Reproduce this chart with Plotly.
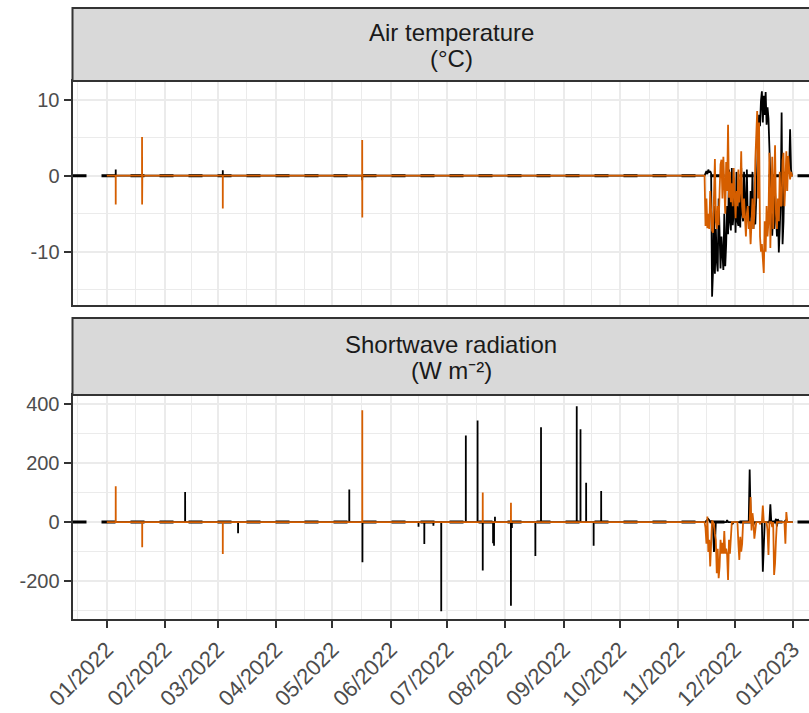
import pandas as pd
import plotly.graph_objects as go

# ---------------- data ----------------
series_start = "2022-01-01 00:00"
series_end = "2023-01-01 00:00"
dense_start = "2022-11-15 00:00"   # dense block sampled every 12 h

# Air temperature (°C) - black series
air_black_spike_times = ["2022-01-05 18:00", "2022-03-03 17:00", "2022-05-16 21:00"]
air_black_spike_values = [0.8, 0.7, -0.6]
air_black_dense = [
    0, 0.3, 0.6, 0.2, 0.8, 0.4, 0.6, 0.3,
    -15.9,
    -12.5, -4, -12.9, -7, -11.2, -12.6, -3, -10.5, -12.2, -8, -11.5, -12.4, -5, -11.9, -9,
    -4, -7.7, 0.8, -6, -7.2, 1, -6.5, -5, -2, -7.5, 0.5,
    -6, -6.6, -3, -6.8, 1, -5, -6, 0.5, -4,
    -5.9, 0.8, -6, -4, -7, -2, -5.5, 0.5, -7, -4, -6.4, -3,
    3.2, 5, 8, 6.5, 9.8, 11.1, 7, 10.5, 8, 11, 6.7, 9, 7.5, 4,
    0.5, -3, -7.9, -5, -7, -2, -6, -8, -4, -10.1, -7, -3,
    8.3,
    -9, -6, 0.5, -2, 1, 0.3, 2, 0.5, 6.1, 0.8, 0,
]

# Air temperature (°C) - orange series
air_orange_spike_times = ["2022-01-05 18:00", "2022-01-19 18:00", "2022-01-19 19:00",
                          "2022-01-19 20:00", "2022-01-19 21:00", "2022-03-03 17:00",
                          "2022-05-16 21:00", "2022-05-16 22:00"]
air_orange_spike_values = [-3.8, 5.1, -3.8, 3.6, 1.0, -4.3, 4.7, -5.5]
air_orange_dense = [
    0, -6.6, -3, -6.9, -5, -7, -2, -6, -7.2,
    -7.5, -3, 2.2, -6, -7, -4, -6.5, -2, 1.5,
    2.1, -3, 2.5, -1, -5, 1.8, -2, 6.7,
    -2.9, 0.5, -3.5, -1, -4, 1, -3, -5.6, -2, -4, 0.8, -3.5, -2,
    3.2, -4, -5.6, -3, -6, -8, -5, -4, -7, -6, -9, -6.4, -3, -7, -5,
    2, 5, 8.5, -3, 7,
    -8, -10, -9, -11, -12.8, -6, -10, -4, -8,
    -6, 3, -9.5, -4, 2.5, -7, -3, 4, -5,
    -7, -3, -6, 0.5, -4, -3.9, 2,
    3, -4, -1, 3.2, -2, 2.6, 1, -0.5, 0.5, 0,
]

# Shortwave radiation (W m-2) - black series
sw_black_spike_times = ["2022-02-11 16:00", "2022-03-11 20:00", "2022-05-10 00:00",
                        "2022-05-17 00:00", "2022-06-15 20:00", "2022-06-18 22:00",
                        "2022-06-23 18:00", "2022-06-27 22:00", "2022-07-11 00:00",
                        "2022-07-17 06:00", "2022-07-20 00:00", "2022-07-25 12:00",
                        "2022-07-26 00:00", "2022-07-26 12:00", "2022-08-04 00:00",
                        "2022-08-04 12:00", "2022-08-17 00:00", "2022-08-20 00:00",
                        "2022-09-08 00:00", "2022-09-10 00:00", "2022-09-13 00:00",
                        "2022-09-17 00:00", "2022-09-21 00:00"]
sw_black_spike_values = [102, -38, 110, -136, -16, -74, -12, -302, 293, 344, -164, -72,
                         -80, 18, -283, -20, -115, 321, 392, 314, 133, -80, 105]
sw_black_dense = [
    0, 0, 5, 8, 10, 6, 0, 3, 0,
    -20, -101, -80, 0,
    0, 0, 0, 0, 0, 0, 0, 0, 0, 0, 0, 7, 0, 0, 0, 0, 0, -5, 0, 0, 0, 0, 0, 0, 0, 0, 0,
    0, 0, 0, 0, 0, 0, 0, 0,
    178, 20,
    0, 0, -10, 0, 0, 0, 0, 0, 0, 0, 0, 0,
    -168, -30,
    0, 0, 0, 0, 0, 0,
    60, 0,
    0, 0, 0, 0,
    11, -15, 10,
    0, 0, 0, 0, 0, 0, 0, 5, 0, 0, 0, 0, 0, 0, 0,
]

# Shortwave radiation (W m-2) - orange series
sw_orange_spike_times = ["2022-01-05 18:00", "2022-01-19 20:00", "2022-03-03 17:00",
                         "2022-05-16 22:00", "2022-07-20 00:00", "2022-08-04 00:00"]
sw_orange_spike_values = [121, -85, -108, 378, 100, 65]
sw_orange_dense = [
    0, -20, -73, 19, -101, -60, -150, -30, 5,
    0, -8, -40, -60, -173, -90, -190, -150, -60, -107, -70, -107, -30, -107, -90, -110,
    -196, -60, -107, -20, 0,
    0, 0, 0, 0, 0, 0,
    -73, -128, -50, -100, -73, 0,
    0, 0, 0, 0, 0, 0, 0,
    85, -28, 30,
    0,
    -56, -20,
    0, 0, 0, 0,
    -5,
    0, 0,
    56, 0,
    0, 0, 0,
    -30, -111,
    0, 0, 0,
    -17, 0,
    -179, -140, -60,
    0, 0, 0, 0, 0, 0, 0, 0,
    0, -73, 34,
    0, 0, 0, 0, 0, 0,
]

panel_titles = [["Air temperature", "(°C)"], ["Shortwave radiation", "(W m⁻²)"]]
air_tick_vals = [-10, 0, 10]
air_tick_text = ["-10", "0", "10"]
air_minor_vals = [-15, -5, 5]
sw_tick_vals = [-200, 0, 200, 400]
sw_tick_text = ["-200", "0", "200", "400"]
sw_minor_vals = [-300, -100, 100, 300]
reference_value = 0

BLACK = "#000000"
ORANGE = "#D55E00"


def build(spike_times, spike_values, dense_values):
    pts = [(pd.Timestamp(series_start), 0.0)]
    half = pd.Timedelta(minutes=30)
    for t, v in sorted(zip(pd.to_datetime(spike_times), spike_values)):
        pts += [(t - half, 0.0), (t, v), (t + half, 0.0)]
    dense_t = pd.date_range(dense_start, periods=len(dense_values), freq="12h")
    pts += list(zip(dense_t, dense_values))
    pts.append((pd.Timestamp(series_end), 0.0))
    return [p[0] for p in pts], [p[1] for p in pts]


W, H = 809, 713
FONT = "Liberation Sans"
GRID = "#EBEBEB"
AX = "#333333"

# layout geometry (pixels -> paper)
left_px = 72.5
px_per_day = 686.1 / 365
x0 = pd.Timestamp("2022-01-01") - pd.Timedelta(days=18.25)
x1 = (x0 + pd.Timedelta(days=(W - left_px) / px_per_day)).round("min")
xdom = [left_px / W, 1]
ydom1 = [1 - 305 / H, 1 - 81 / H]
ydom2 = [1 - 619 / H, 1 - 395 / H]

fig = go.Figure()
panels = [
    (air_black_spike_times, air_black_spike_values, air_black_dense,
     air_orange_spike_times, air_orange_spike_values, air_orange_dense, "x", "y"),
    (sw_black_spike_times, sw_black_spike_values, sw_black_dense,
     sw_orange_spike_times, sw_orange_spike_values, sw_orange_dense, "x2", "y2"),
]
for bt, bv, bd, ot, ov, od, xa, ya in panels:
    xs, ys = build(bt, bv, bd)
    fig.add_trace(go.Scatter(x=xs, y=ys, mode="lines", line=dict(color=BLACK, width=1.8),
                             xaxis=xa, yaxis=ya, showlegend=False, hoverinfo="skip"))
    # dashed zero reference line across the whole panel
    fig.add_trace(go.Scatter(x=[x0, x1], y=[reference_value, reference_value], mode="lines",
                             line=dict(color=BLACK, width=3, dash="14px,15px"),
                             xaxis=xa, yaxis=ya, showlegend=False, hoverinfo="skip"))
    xs, ys = build(ot, ov, od)
    fig.add_trace(go.Scatter(x=xs, y=ys, mode="lines", line=dict(color=ORANGE, width=1.8),
                             xaxis=xa, yaxis=ya, showlegend=False, hoverinfo="skip"))

months = pd.date_range("2021-12-01", "2023-02-01", freq="MS")
mids = [(months[i] + (months[i + 1] - months[i]) / 2) for i in range(len(months) - 1)]

xcommon = dict(
    type="date", range=[x0, x1], domain=xdom, tick0="2022-01-01", dtick="M1",
    tickformat="%m/%Y", showgrid=True, gridcolor=GRID, gridwidth=2.2, automargin=False,
    showline=True, linecolor=AX, linewidth=2, mirror=True, zeroline=False,
    minor=dict(tickmode="array", tickvals=mids, showgrid=True, gridcolor=GRID, gridwidth=1.1, ticks=""),
)
ycommon = dict(tickmode="array", showgrid=True, gridcolor=GRID, gridwidth=2.2, zeroline=False,
               showline=True, linecolor=AX, linewidth=2, automargin=False,
               ticks="outside", ticklen=7, tickwidth=2, tickcolor=AX,
               tickfont=dict(size=20, color="#4D4D4D"))
fig.update_layout(
    width=W, height=H, margin=dict(l=0, r=0, t=0, b=0),
    paper_bgcolor="white", plot_bgcolor="white", showlegend=False,
    font=dict(family=FONT, size=18, color="#4D4D4D"),
    xaxis=dict(**xcommon, anchor="y", showticklabels=False, ticks=""),
    xaxis2=dict(**xcommon, anchor="y2", ticks="outside", ticklen=7, tickwidth=2, tickcolor=AX,
                tickangle=-45, tickfont=dict(size=22, color="#4D4D4D")),
    yaxis=dict(**ycommon, domain=ydom1, anchor="x", range=[-17.0, 12.45],
               tickvals=air_tick_vals, ticktext=air_tick_text,
               minor=dict(tickmode="array", tickvals=air_minor_vals, showgrid=True,
                          gridcolor=GRID, gridwidth=1.1, ticks="")),
    yaxis2=dict(**ycommon, domain=ydom2, anchor="x2", range=[-328, 430],
                tickvals=sw_tick_vals, ticktext=sw_tick_text,
                minor=dict(tickmode="array", tickvals=sw_minor_vals, showgrid=True,
                           gridcolor=GRID, gridwidth=1.1, ticks="")),
)

# facet strips
strips = [(8, 81), (318, 395)]
for (top, bot), lines in zip(strips, panel_titles):
    fig.add_shape(type="rect", xref="paper", yref="paper", x0=left_px / W, x1=1.02,
                  y0=1 - bot / H, y1=1 - top / H, fillcolor="#D9D9D9",
                  line=dict(color=AX, width=2), layer="above")
    mid = (top + bot) / 2 + 1
    for k, txt in enumerate(lines):
        ypx = mid + (k - 0.5) * 26
        fig.add_annotation(xref="paper", yref="paper", x=451 / W, y=1 - ypx / H,
                           text=txt, showarrow=False, xanchor="center", yanchor="middle",
                           font=dict(family=FONT, size=24, color="#1A1A1A"))

fig.write_html("out.html", config={"displayModeBar": False},
               post_script="document.body.style.margin='0px';")
